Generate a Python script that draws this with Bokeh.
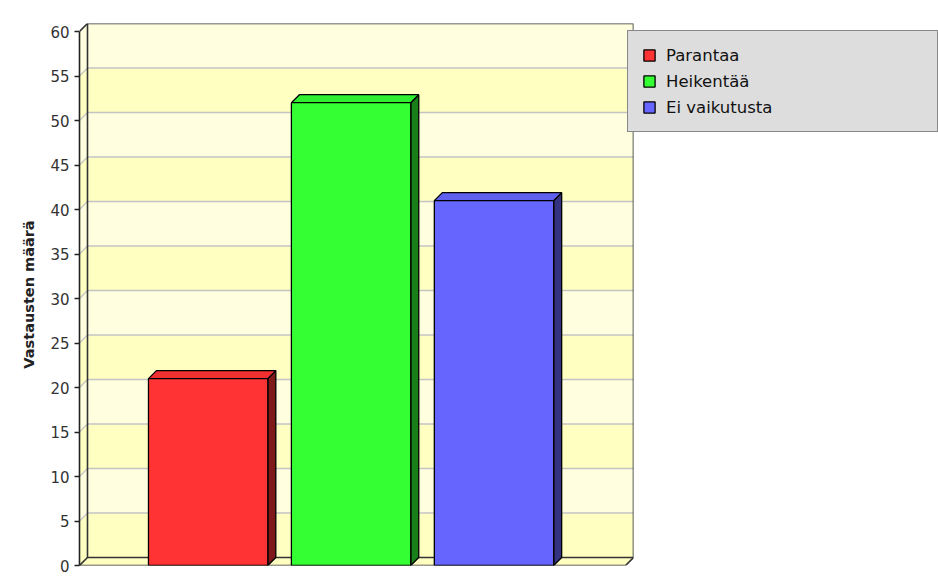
from bokeh.plotting import figure
from bokeh.models import Range1d, FixedTicker, Legend, LegendItem, ColumnDataSource
from bokeh.embed import file_html
from bokeh.resources import INLINE

# ---- data ----
categories = ["Parantaa", "Heikentää", "Ei vaikutusta"]
values = [21, 52, 41]
front_colors = ["#FF3333", "#33FF33", "#6666FF"]
top_colors = ["#F03030", "#30EE30", "#6060F0"]
side_colors = ["#7F1919", "#198019", "#333380"]
y_ticks = list(range(0, 61, 5))
y_label = "Vastausten määrä"

# ---- layout / style constants ----
FRAME_W, FRAME_H = 554, 542
DEPTH = 8            # 3D depth offset in px
Y_MAX = 60
X_LEFT_PAD = 0.9
X_RIGHT_PAD = 0.92
BAR_W = 0.835
BAND_DARK = "#FFFFC2"
BAND_LIGHT = "#FFFFDF"
EDGE = "#333333"

n = len(categories)
x_start = -X_LEFT_PAD
x_front_end = (n - 1) + X_RIGHT_PAD
ppu_x = (FRAME_W - DEPTH) / (x_front_end - x_start)
dx = DEPTH / ppu_x
x_end = x_front_end + dx
ppu_y = (FRAME_H - DEPTH) / Y_MAX
dY = DEPTH / ppu_y
y_end = Y_MAX + dY

p = figure(frame_width=FRAME_W, frame_height=FRAME_H, output_backend="svg",
           toolbar_location=None,
           x_range=Range1d(x_start, x_end), y_range=Range1d(0, y_end),
           x_axis_location=None, min_border_left=79, min_border_right=304,
           min_border_top=23, min_border_bottom=11)
p.grid.visible = False
p.outline_line_color = None
p.background_fill_color = "white"
p.border_fill_color = "white"

# ---- back wall bands ----
step = y_ticks[1] - y_ticks[0]
band_lo = y_ticks[:-1]
band_cols = [BAND_DARK if k % 2 == 0 else BAND_LIGHT for k in range(len(band_lo))]
p.quad(left=x_start + dx, right=x_end,
       bottom=[b + dY for b in band_lo], top=[b + step + dY for b in band_lo],
       fill_color=band_cols, line_color=None)
# left side wall bands
p.patches(xs=[[x_start, x_start + dx, x_start + dx, x_start] for _ in band_lo],
          ys=[[b, b + dY, b + step + dY, b + step] for b in band_lo],
          fill_color=band_cols, line_color=None)
# floor
p.patch(x=[x_start, x_front_end, x_end, x_start + dx], y=[0, 0, dY, dY],
        fill_color=BAND_DARK, line_color=None)

# ---- gridlines ----
inner = y_ticks[1:-1]
p.multi_line(xs=[[x_start + dx, x_end] for _ in inner],
             ys=[[v + dY, v + dY] for v in inner], line_color="#C4C4C4", line_width=1.3)
p.multi_line(xs=[[x_start, x_start + dx] for _ in inner],
             ys=[[v, v + dY] for v in inner], line_color="#C4C4C4", line_width=1.3)

# ---- wall outlines ----
p.multi_line(
    xs=[[x_start, x_start + dx, x_end, x_end, x_front_end, x_start],
        [x_start + dx, x_start + dx, x_end],
        [x_start, x_start + dx]],
    ys=[[Y_MAX, y_end, y_end, dY, 0, 0],
        [y_end, dY, dY],
        [0, dY]],
    line_color=EDGE, line_width=1.6)

# ---- bars ----
idx = list(range(n))
lefts = [i - BAR_W / 2 for i in idx]
rights = [i + BAR_W / 2 for i in idx]
p.patches(xs=[[r, r + dx, r + dx, r] for r in rights],
          ys=[[0, dY, v + dY, v] for v in values],
          fill_color=side_colors, line_color="black", line_width=1.3)
p.patches(xs=[[l, r, r + dx, l + dx] for l, r in zip(lefts, rights)],
          ys=[[v, v, v + dY, v + dY] for v in values],
          fill_color=top_colors, line_color="black", line_width=1.3)
src = ColumnDataSource(dict(left=lefts, right=rights, top=values, color=front_colors))
bars = p.quad(left="left", right="right", bottom=0, top="top", source=src,
              fill_color="color", line_color="black", line_width=1.3)

# ---- axis ----
ax = p.yaxis[0]
ax.bounds = (0, Y_MAX)
ax.ticker = FixedTicker(ticks=y_ticks)
ax.minor_tick_line_color = None
ax.major_tick_out = 5
ax.major_tick_in = 0
ax.axis_line_color = "#222222"
ax.axis_line_width = 1.6
ax.major_tick_line_color = "#222222"
ax.major_tick_line_width = 1.6
ax.major_label_text_font = "DejaVu Sans"
ax.major_label_text_font_size = "15px"
ax.major_label_text_color = "#333333"
ax.major_label_standoff = 5
ax.axis_label = y_label
ax.axis_label_text_font = "DejaVu Sans"
ax.axis_label_text_font_size = "14.5px"
ax.axis_label_text_font_style = "bold"
ax.axis_label_text_color = "#222222"
ax.axis_label_standoff = 10

# ---- legend ----
items = [LegendItem(label=c, renderers=[bars], index=i) for i, c in enumerate(categories)]
legend = Legend(items=items, location=(-DEPTH + 2, 433), orientation="vertical",
                background_fill_color="#DDDDDD", background_fill_alpha=1.0,
                border_line_color=EDGE, border_line_width=1.2,
                padding=14, spacing=6, margin=0,
                glyph_width=14, glyph_height=14, label_standoff=10,
                label_width=257, label_height=20,
                label_text_font="DejaVu Sans", label_text_font_size="16.5px",
                label_text_color="#111111")
p.add_layout(legend, "right")

open("out.html", "w").write(file_html(p, INLINE))
